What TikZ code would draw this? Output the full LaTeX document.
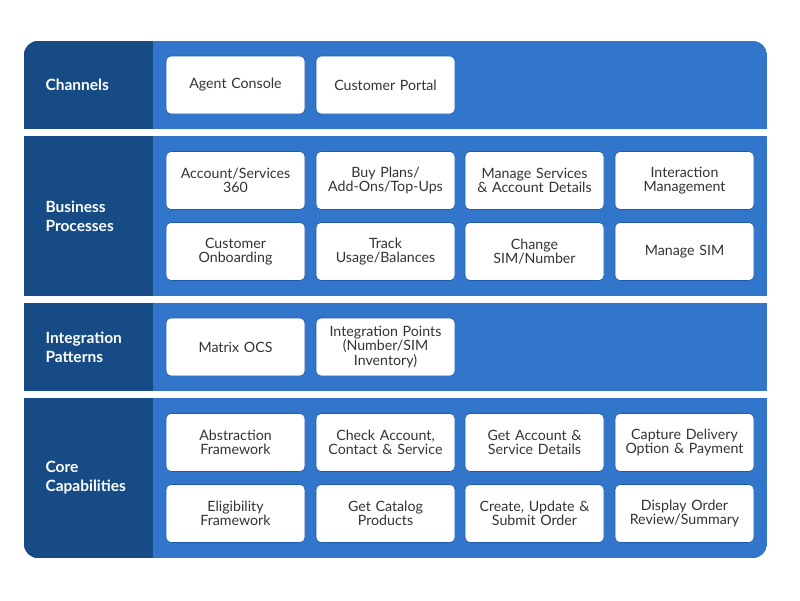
\documentclass[tikz,border=0pt]{standalone}
\usepackage{fontspec}
\setmainfont{Lato}
\definecolor{darkband}{HTML}{164B86}
\definecolor{lightband}{HTML}{3276CC}
\definecolor{boxedge}{HTML}{1E5AA8}
\tikzset{
  bandlabel/.style={text=white, font=\bfseries\fontsize{15.5}{19}\selectfont, anchor=west, align=left},
  item/.style={draw=boxedge, line width=0.6pt, fill=white, rounded corners=5pt,
    minimum width=139pt, minimum height=58pt, inner sep=1pt, text width=134pt, align=center,
    font=\fontsize{14.2}{14.5}\selectfont, text=black!80}
}
\begin{document}
\begin{tikzpicture}[x=1pt,y=-1pt]
\useasboundingbox (0,0) rectangle (800,600);

% bands
\begin{scope}
  \clip[rounded corners=14pt] (24,41) rectangle (767,558);
  \foreach \top/\bot in {41/129, 136/296, 303/391, 398/558} {
    \fill[lightband] (24,\top) rectangle (767,\bot);
    \fill[darkband] (24,\top) rectangle (153,\bot);
  }
\end{scope}

% captions
\node[bandlabel] (channels) at (42,85) {Channels};
\node[bandlabel] (business) at (42,216) {Business\\Processes};
\node[bandlabel] (integration) at (42,347) {Integration\\Patterns};
\node[bandlabel] (core) at (42,478) {Core\\Capabilities};

% Channels
\node[item] (agent) at (235.5,85) {Agent Console};
\node[item] (portal) at (385.5,85) {Customer Portal};

% Business Processes
\node[item] (acct360) at (235.5,180.5) {Account/Services\\360};
\node[item] (buyplans) at (385.5,180.5) {Buy Plans/\\Add-Ons/Top-Ups};
\node[item] (managesvc) at (534.5,180.5) {Manage Services\\\& Account Details};
\node[item] (interaction) at (684.5,180.5) {Interaction\\Management};
\node[item] (onboard) at (235.5,251.5) {Customer\\Onboarding};
\node[item] (usage) at (385.5,251.5) {Track\\Usage/Balances};
\node[item] (changesim) at (534.5,251.5) {Change\\SIM/Number};
\node[item] (managesim) at (684.5,251.5) {Manage SIM};

% Integration Patterns
\node[item] (ocs) at (235.5,347) {Matrix OCS};
\node[item] (intpoints) at (385.5,347) {Integration Points\\(Number/SIM\\Inventory)};

% Core Capabilities
\node[item] (abstraction) at (235.5,442.5) {Abstraction\\Framework};
\node[item] (checkacct) at (385.5,442.5) {Check Account,\\Contact \& Service};
\node[item] (getacct) at (534.5,442.5) {Get Account \&\\Service Details};
\node[item] (delivery) at (684.5,442.5) {Capture Delivery\\Option \& Payment};
\node[item] (eligibility) at (235.5,513.5) {Eligibility\\Framework};
\node[item] (catalog) at (385.5,513.5) {Get Catalog\\Products};
\node[item] (order) at (534.5,513.5) {Create, Update \&\\Submit Order};
\node[item] (review) at (684.5,513.5) {Display Order\\Review/Summary};
\end{tikzpicture}
\end{document}
